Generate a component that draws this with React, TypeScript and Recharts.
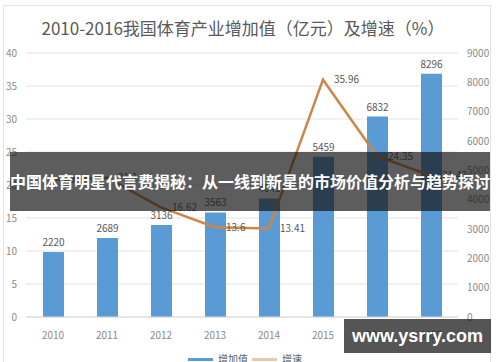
import React from 'react';
import { ComposedChart, Bar, Line, XAxis, YAxis, CartesianGrid, LabelList, Legend } from 'recharts';

const years = ['2010', '2011', '2012', '2013', '2014', '2015', '2016', '2017'];
const addedValue = [2220, 2689, 3136, 3563, 4041, 5459, 6832, 8296];
const growthRate = [20.8, 21.1, 16.62, 13.6, 13.41, 35.96, 24.35, 21.43];
const leftTicks = [0, 5, 10, 15, 20, 25, 30, 35, 40];
const rightTicks = [0, 1000, 2000, 3000, 4000, 5000, 6000, 7000, 8000, 9000];
const seriesNames = ['增加值', '增速'];
const titleText = '2010-2016我国体育产业增加值（亿元）及增速（%）';
const bannerText = '中国体育明星代言费揭秘：从一线到新星的市场价值分析与趋势探讨';
const watermarkText = 'www.ysrry.com';

const data = years.map((y, i) => ({ year: y, value: addedValue[i], rate: growthRate[i] }));

const BAR_COLOR = '#5B9BD5';
const LINE_COLOR = '#CC8646';
const TEXT_COLOR = '#8a8a8a';
const FONT = '"Noto Sans CJK SC", "Noto Sans", sans-serif';

const renderLegend = () => (
  <div style={{ position: 'relative', width: 500, height: 16, fontFamily: FONT, fontSize: 10, color: '#595959' }}>
    <div style={{ position: 'absolute', left: 188, top: 7, width: 25, height: 3, background: BAR_COLOR }} />
    <div style={{ position: 'absolute', left: 218, top: 0, lineHeight: '16px' }}>{seriesNames[0]}</div>
    <div style={{ position: 'absolute', left: 252, top: 7, width: 25, height: 3, background: '#e8c9a8' }} />
    <div style={{ position: 'absolute', left: 282, top: 0, lineHeight: '16px' }}>{seriesNames[1]}</div>
  </div>
);

export default function App() {
  return (
    <div style={{ position: 'absolute', left: 0, top: 0, width: 500, height: 362, overflow: 'hidden', background: '#fff' }}>
      <div style={{ position: 'absolute', left: 3, top: 5, width: 488, height: 400, border: '1px solid #e4e4e4', boxSizing: 'border-box' }} />
      <div style={{ position: 'absolute', left: 0, top: 16, width: 486, textAlign: 'center', fontFamily: FONT, fontSize: 17, color: '#595959', lineHeight: '24px' }}>
        {titleText}
      </div>
      <div style={{ position: 'absolute', left: 0, top: 0 }}>
        <ComposedChart width={500} height={362} data={data} margin={{ top: 53, right: 6, bottom: 25, left: 6 }}>
          <CartesianGrid yAxisId="left" vertical={false} stroke="#e3e3e3" />
          <XAxis dataKey="year" axisLine={{ stroke: '#d9d9d9' }} tickLine={false} tickMargin={9} height={20}
            tick={{ fontSize: 10, fill: TEXT_COLOR, fontFamily: FONT }} interval={0} />
          <YAxis yAxisId="left" orientation="left" domain={[0, 40]} ticks={leftTicks} width={20}
            axisLine={false} tickLine={false} tickMargin={3}
            tick={{ fontSize: 10, fill: TEXT_COLOR, fontFamily: FONT }} />
          <YAxis yAxisId="right" orientation="right" domain={[0, 9000]} ticks={rightTicks} width={36}
            axisLine={false} tickLine={false} tickMargin={3}
            tick={{ fontSize: 10, fill: TEXT_COLOR, fontFamily: FONT, textAnchor: 'start' }} />
          <Bar yAxisId="right" dataKey="value" name={seriesNames[0]} fill={BAR_COLOR} barSize={21} isAnimationActive={false}>
            <LabelList dataKey="value" position="top" offset={6} style={{ fontSize: 10, fill: '#595959', fontFamily: FONT }} />
          </Bar>
          <Line yAxisId="left" dataKey="rate" name={seriesNames[1]} stroke={LINE_COLOR} strokeWidth={2.5} dot={false} type="linear" isAnimationActive={false}>
            <LabelList dataKey="rate" position="right" offset={11} style={{ fontSize: 10, fill: '#595959', fontFamily: FONT }} />
          </Line>
          <Legend layout="horizontal" verticalAlign="middle" align="center" content={renderLegend}
            wrapperStyle={{ position: 'absolute', top: 351, left: 0, width: 500 }} />
        </ComposedChart>
      </div>
      <div style={{ position: 'absolute', left: 10, top: 152, width: 480, height: 59, background: 'rgba(20,20,20,0.69)', color: '#fff', fontFamily: FONT, fontWeight: 700, fontSize: 16, lineHeight: '59px', whiteSpace: 'nowrap', textAlign: 'center', overflow: 'hidden' }}>
        {bannerText}
      </div>
      <div style={{ position: 'absolute', left: 344, top: 319, width: 147, height: 34, background: 'rgba(20,20,20,0.72)', color: '#fff', fontFamily: '"Liberation Sans", Arial, sans-serif', fontWeight: 700, fontSize: 18, lineHeight: '34px', textAlign: 'center' }}>
        {watermarkText}
      </div>
    </div>
  );
}
